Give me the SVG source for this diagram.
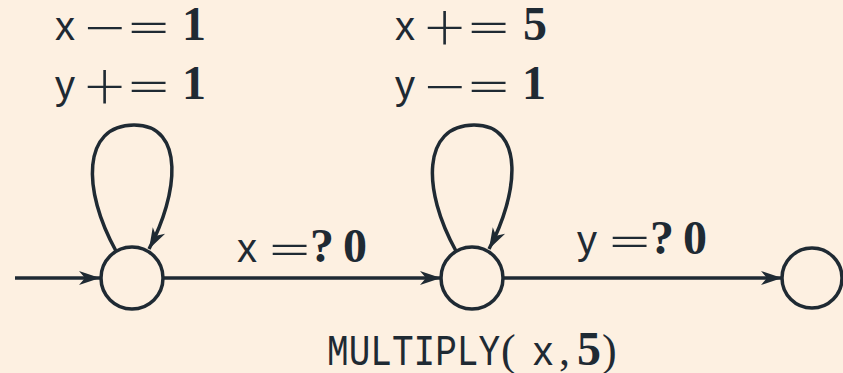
<svg xmlns="http://www.w3.org/2000/svg" width="843" height="373" viewBox="0 0 843 373">
<style>
.bg{fill:#fdf0e1}
.st{fill:none;stroke:#1f2a33;stroke-width:3.5}
.node{fill:none;stroke:#1f2a33;stroke-width:3.5}
text{fill:#1f2a33}
.v{font-family:"Liberation Sans",Arial,sans-serif;font-size:40px}
.op{font-family:"DejaVu Sans",sans-serif;font-size:54px;font-weight:200}
.n{font-family:"Liberation Serif","Times New Roman",serif;font-weight:bold;font-size:48px}
.r{font-family:"Liberation Serif","Times New Roman",serif;font-size:44px}
.tt{font-family:"Liberation Mono","Courier New",monospace;font-size:44px}
</style>
<defs>
<marker id="ah" viewBox="-22 -8 24 16" refX="0" refY="0" markerWidth="24" markerHeight="16" markerUnits="userSpaceOnUse" orient="auto">
<path d="M0,0 L-21,-7 L-15,0 L-21,7 Z" fill="#1f2a33"/>
</marker>
</defs>
<rect class="bg" x="0" y="0" width="843" height="373"/>
<g id="connectors">
<line class="st" x1="15" y1="278" x2="100" y2="278" marker-end="url(#ah)"/>
<line class="st" x1="163" y1="278" x2="441" y2="278" marker-end="url(#ah)"/>
<line class="st" x1="503" y1="278" x2="782" y2="278" marker-end="url(#ah)"/>
<path class="st" d="M116,251 C82,190 82,125 134,125 C186,125 178,195 149,249" marker-end="url(#ah)"/>
<path class="st" d="M456,251 C422,190 422,125 474,125 C526,125 518,195 489,249" marker-end="url(#ah)"/>
</g>
<g id="node1"><circle class="node" cx="132" cy="278" r="31"/></g>
<g id="node2"><circle class="node" cx="472" cy="278" r="31"/></g>
<g id="node3"><circle class="node" cx="812" cy="278" r="30"/></g>
<g id="label-loop1">
<text class="v" x="55" y="40">x</text><text class="op" x="82" y="45">−</text><text class="op" x="126" y="45">=</text><text class="n" x="182" y="40">1</text>
<text class="v" x="55" y="99">y</text><text class="op" x="82" y="104">+</text><text class="op" x="126" y="104">=</text><text class="n" x="182" y="99">1</text>
</g>
<g id="label-loop2">
<text class="v" x="395" y="40">x</text><text class="op" x="422" y="45">+</text><text class="op" x="466" y="45">=</text><text class="n" x="523" y="40">5</text>
<text class="v" x="395" y="99">y</text><text class="op" x="422" y="104">−</text><text class="op" x="466" y="104">=</text><text class="n" x="522" y="99">1</text>
</g>
<g id="label-e1">
<text class="v" x="237" y="262">x</text><text class="op" x="267" y="267">=</text><text class="n" x="310" y="262">?</text><text class="n" x="343" y="262">0</text>
</g>
<g id="label-e2">
<text class="v" x="577" y="254">y</text><text class="op" x="607" y="259">=</text><text class="n" x="650" y="254">?</text><text class="n" x="683" y="254">0</text>
</g>
<g id="label-node2">
<text class="tt" transform="translate(327,365) scale(0.82,1)" x="0" y="0">MULTIPLY</text><text class="r" x="501" y="365">(</text><text class="v" x="533" y="365">x</text><text class="r" x="559" y="365">,</text><text class="n" x="577" y="365">5</text><text class="r" x="602" y="365">)</text>
</g>
</svg>
